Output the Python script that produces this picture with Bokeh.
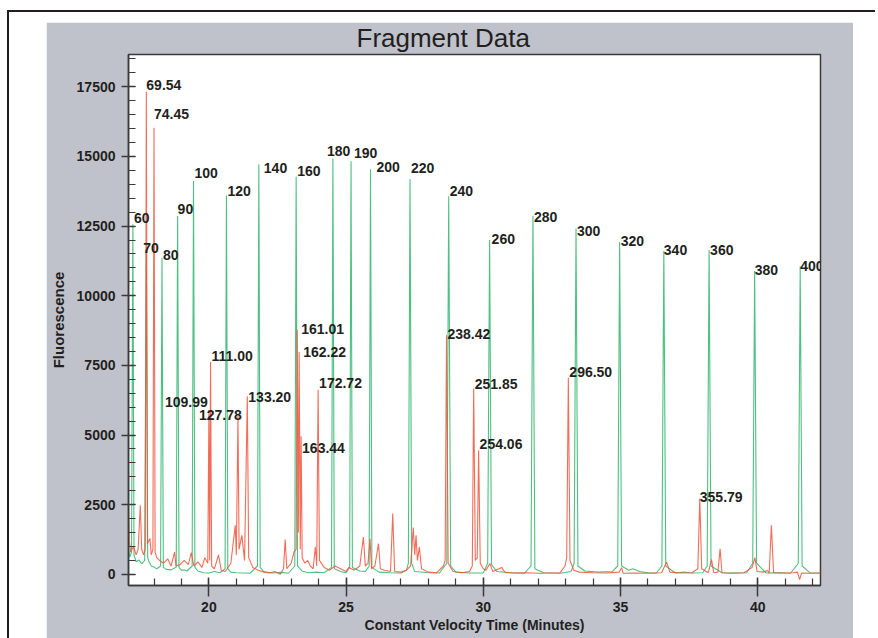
from bokeh.plotting import figure
from bokeh.models import Range1d, SingleIntervalTicker, ColumnDataSource
from bokeh.layouts import column
from bokeh.core.properties import value
from bokeh.embed import file_html
from bokeh.resources import INLINE

# ---- size standard peaks (green) ----
std_labels = ["60", "70", "80", "90", "100", "120", "140", "160", "180", "190", "200",
              "220", "240", "260", "280", "300", "320", "340", "360", "380", "400"]
std_time = [17.23, 17.72, 18.29, 18.86, 19.44, 20.64, 21.82, 23.18, 24.52, 25.18, 25.89,
            27.33, 28.74, 30.23, 31.81, 33.38, 34.97, 36.58, 38.23, 39.89, 41.55]
std_height = [12570, 11640, 11360, 12860, 14120, 13600, 14720, 14270, 14930, 14830, 14540,
              14190, 13570, 12000, 12870, 12410, 11930, 11610, 11640, 10890, 11060]
std_dx = [1, -3, 1, 0, 1, 1, 5, 1, -6, 3, 6, 1, 1, 2, 1, 1, 1, 0, 1, 0, 0]
std_dy = [-6, -2, -3, -7, -8, -4, 4, -6, -7, -8, -2, -11, -5, -1, 1, 2, -1, -1, 0, -1, 0]

# ---- sample peaks (red) ----
smp_labels = ["69.54", "74.45", "109.99", "111.00", "127.78", "133.20", "161.01", "162.22",
              "163.44", "172.72", "238.42", "251.85", "254.06", "296.50", "355.79"]
smp_time = [17.72, 18.00, 20.00, 20.06, 21.06, 21.40, 23.22, 23.29,
            23.36, 23.98, 28.66, 29.65, 29.83, 33.10, 37.89]
smp_height = [17320, 16030, 5890, 7620, 5710, 6390, 8760, 7980,
              4960, 6630, 8580, 6670, 4450, 7060, 2720]
smp_dx = [0, 0, -44, 1, -39, 1, 4, 4, 1, 1, 1, 1, 1, 1, 0]
smp_dy = [-7, -14, -8, -6, 0, 1, -1, 0, 12, -7, -1, -5, -6, -6, -2]

# ---- green trace between peaks ----
green_bt = [17.07, 17.12, 17.18, 17.27, 17.35, 17.45, 17.55, 17.66, 17.77, 17.82, 17.9, 18.0,
            18.1, 18.24, 18.34, 18.45, 18.6, 18.7, 18.81, 18.91, 19.0, 19.1, 19.2, 19.39,
            19.49, 19.6, 19.8, 20.0, 20.2, 20.4, 20.59, 20.69, 20.8, 21.0, 21.3, 21.5,
            21.77, 21.87, 22.0, 22.3, 22.6, 22.9, 23.13, 23.23, 23.4, 23.6, 23.9, 24.2,
            24.47, 24.57, 24.8, 25.0, 25.13, 25.23, 25.5, 25.7, 25.84, 25.94, 26.2, 26.6,
            27.0, 27.2, 27.27, 27.39, 27.5, 28.0, 28.4, 28.67, 28.81, 29.0, 29.5, 30.0,
            30.16, 30.30, 30.5, 31.0, 31.5, 31.74, 31.88, 32.2, 32.8, 33.2, 33.31, 33.45,
            33.7, 34.2, 34.7, 34.90, 35.04, 35.3, 35.45, 35.7, 36.0, 36.3, 36.51, 36.65,
            37.0, 37.3, 37.6, 38.0, 38.16, 38.30, 38.7, 39.2, 39.6, 39.82, 39.96, 40.3,
            40.8, 41.2, 41.48, 41.62, 41.9, 42.29]
green_bv = [950, 620, 800, 700, 450, 520, 380, 500, 600, 440, 300, 260,
            200, 300, 250, 180, 160, 200, 260, 240, 150, 160, 120, 300,
            250, 120, 60, 50, 100, 60, 200, 200, 80, 60, 50, 40,
            300, 250, 100, 50, 70, 40, 300, 300, 120, 60, 80, 60,
            250, 200, 100, 60, 250, 250, 120, 100, 300, 250, 80, 60,
            50, 150, 400, 400, 100, 60, 50, 400, 300, 80, 50, 50,
            400, 350, 100, 60, 40, 300, 200, 60, 40, 100, 400, 300,
            120, 80, 100, 300, 300, 150, 200, 100, 60, 40, 300, 300,
            50, 80, 50, 60, 300, 300, 60, 50, 60, 400, 400, 50,
            60, 40, 400, 300, 60, 50]

# ---- red trace between labelled peaks ----
red_bt = [17.07, 17.1, 17.15, 17.25, 17.35, 17.42, 17.50, 17.55, 17.62, 17.68, 17.76, 17.85,
          17.9, 17.96, 18.04, 18.1, 18.2, 18.35, 18.5, 18.62, 18.75, 18.8, 18.95, 19.1,
          19.25, 19.36, 19.45, 19.6, 19.75, 19.85, 19.96, 20.03, 20.10, 20.2, 20.35, 20.45,
          20.6, 20.8, 20.96, 21.0, 21.1, 21.2, 21.3, 21.45, 21.6, 21.8, 22.0, 22.2,
          22.4, 22.6, 22.72, 22.78, 22.84, 23.0, 23.1, 23.18, 23.26, 23.33, 23.40, 23.5,
          23.6, 23.7, 23.8, 23.88, 23.93, 24.03, 24.2, 24.4, 24.6, 24.8, 25.0, 25.1,
          25.3, 25.5, 25.63, 25.7, 25.8, 25.87, 25.93, 26.05, 26.18, 26.25, 26.4, 26.62,
          26.70, 26.77, 27.0, 27.2, 27.35, 27.45, 27.5, 27.55, 27.6, 27.67, 27.75, 28.0,
          28.3, 28.55, 28.61, 28.72, 28.9, 29.2, 29.5, 29.60, 29.71, 29.78, 29.89, 30.0,
          30.1, 30.24, 30.35, 30.67, 30.8, 31.2, 31.6, 32.0, 32.4, 32.8, 32.98, 33.04,
          33.16, 33.3, 33.5, 34.0, 34.5, 34.95, 35.04, 35.1, 35.5, 36.0, 36.5, 36.68,
          36.8, 37.2, 37.6, 37.82, 37.96, 38.2, 38.32, 38.4, 38.55, 38.63, 38.7, 39.0,
          39.5, 39.8, 39.9, 39.98, 40.2, 40.36, 40.42, 40.5, 40.58, 40.9, 41.3, 41.45,
          41.53, 41.6, 42.0, 42.29]
red_bv = [2500, 1200, 800, 1000, 700, 900, 2480, 900, 700, 900, 1100, 1290,
          700, 900, 800, 600, 500, 400, 560, 300, 800, 300, 350, 500,
          350, 780, 300, 450, 250, 600, 400, 500, 300, 200, 700, 150,
          100, 400, 1760, 700, 900, 1400, 500, 600, 250, 150, 80, 50,
          100, 0, 200, 1250, 200, 400, 800, 900, 1500, 900, 600, 400,
          500, 300, 200, 985, 300, 500, 250, 150, 300, 200, 100, 250,
          150, 300, 1340, 300, 400, 1290, 200, 300, 1100, 200, 150, 100,
          2180, 100, 80, 150, 300, 1680, 700, 1400, 500, 980, 200, 80,
          60, 300, 500, 400, 100, 60, 100, 300, 500, 600, 400, 200,
          150, 390, 100, 250, 60, 50, 60, 40, 50, 60, 300, 600,
          500, 150, 80, 60, 50, 80, 240, 40, 50, 40, 60, 440,
          80, 50, 60, 200, 200, 60, 530, 60, 80, 920, 60, 40,
          60, 250, 600, 100, 80, 140, 40, 1760, 60, 50, 60, 80,
          -190, 50, 40, 50]

x_ticks_interval = 5
y_ticks_interval = 2500

INK = "#231f20"
GRAY = "#bfc2ca"


def merged(bt, bv, pt, pv):
    pts = sorted(list(zip(bt, bv)) + list(zip(pt, pv)))
    return [a for a, _ in pts], [b for _, b in pts]


gx, gy = merged(green_bt, green_bv, std_time, std_height)
rx, ry = merged(red_bt, red_bv, smp_time, smp_height)

p = figure(width=807, height=616,
           x_range=Range1d(17.07, 42.29), y_range=Range1d(-400, 18660),
           output_backend="svg", toolbar_location=None,
           min_border_left=80, min_border_right=33, min_border_top=32, min_border_bottom=53,
           background_fill_color="white", border_fill_color=GRAY,
           outline_line_color="#3a3a3a", outline_line_width=1.5)
p.margin = (10, 0, 0, 37)

p.title.text = "Fragment Data"
p.title.align = "left"
p.title.offset = 228
p.title.standoff = 0
p.title.vertical_align = "top"
p.title.text_font = "Liberation Sans"
p.title.text_font_size = "26px"
p.title.text_font_style = "normal"
p.title.text_color = INK

p.line(gx, gy, line_color="#2fb56c", line_width=1.1, line_alpha=0.85)
p.line(rx, ry, line_color="#f0533b", line_width=1.1, line_alpha=0.85)

lab_font = value("Liberation Sans")
std_src = ColumnDataSource(dict(t=std_time, v=std_height, lab=std_labels, dx=std_dx, dy=std_dy))
smp_src = ColumnDataSource(dict(t=smp_time, v=smp_height, lab=smp_labels, dx=smp_dx, dy=smp_dy))
for src in (std_src, smp_src):
    p.text(x="t", y="v", text="lab", x_offset="dx", y_offset="dy", source=src,
           text_font=lab_font, text_font_style="bold", text_font_size="14px",
           text_color=INK, text_align="left", text_baseline="alphabetic")

p.xgrid.visible = False
p.ygrid.visible = False

p.xaxis.ticker = SingleIntervalTicker(interval=x_ticks_interval, num_minor_ticks=5)
p.yaxis.ticker = SingleIntervalTicker(interval=y_ticks_interval, num_minor_ticks=5)
p.xaxis.axis_label = "Constant Velocity Time (Minutes)"
p.yaxis.axis_label = "Fluorescence"

for ax in (p.xaxis[0], p.yaxis[0]):
    ax.axis_line_color = "#3a3a3a"
    ax.axis_line_width = 1.5
    ax.major_tick_line_color = "#3a3a3a"
    ax.minor_tick_line_color = "#3a3a3a"
    ax.major_tick_line_width = 1.5
    ax.minor_tick_line_width = 1.2
    ax.major_label_text_font = "Liberation Sans"
    ax.major_label_text_font_style = "bold"
    ax.major_label_text_font_size = "14px"
    ax.major_label_text_color = INK
    ax.axis_label_text_font = "Liberation Sans"
    ax.axis_label_text_font_style = "bold"
    ax.axis_label_text_color = INK

p.xaxis.axis_label_text_font_size = "14px"
p.yaxis.axis_label_text_font_size = "15px"

p.xaxis.major_tick_in = 8
p.xaxis.major_tick_out = 11
p.xaxis.minor_tick_in = 7
p.xaxis.minor_tick_out = 0
p.xaxis.major_label_standoff = 5
p.xaxis.axis_label_standoff = 2

p.yaxis.major_tick_in = 7
p.yaxis.major_tick_out = 7
p.yaxis.minor_tick_in = 7
p.yaxis.minor_tick_out = 0
p.yaxis.major_label_standoff = 6
p.yaxis.axis_label_standoff = 7

layout = column(p, width=868,
                styles={"border-top": "2px solid #231f20", "border-left": "2px solid #231f20",
                        "margin-top": "10px", "margin-left": "7px", "margin-bottom": "-14px"})

open("out.html", "w").write(file_html(layout, INLINE))
